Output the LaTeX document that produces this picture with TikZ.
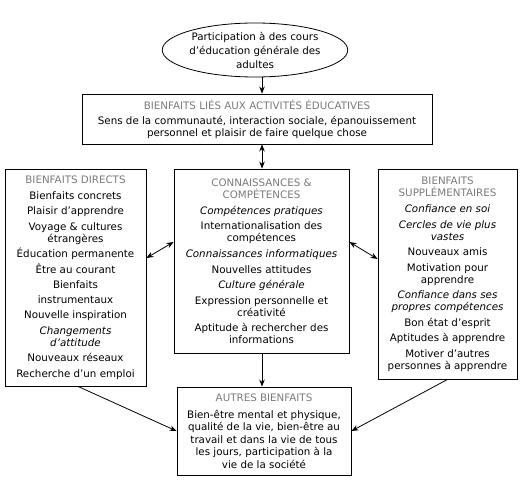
\documentclass[tikz,border=0pt]{standalone}
\usepackage{fontspec}
\setmainfont{DejaVu Sans}
\usetikzlibrary{shapes.geometric,arrows.meta,calc}
\definecolor{headgray}{HTML}{7A7A7A}
\newcommand{\hd}{\color{headgray}}
\newcommand{\itl}{\itshape}
\begin{document}
\begin{tikzpicture}[x=1bp,y=-1bp,
  every node/.style={font=\fontsize{10.3bp}{12bp}\selectfont, align=center, inner sep=0pt},
  box/.style={draw=black, line width=0.9bp, rectangle},
  arr/.style={line width=0.8bp, -{Stealth[length=7bp,width=5.5bp]}},
  darr/.style={line width=0.8bp, {Stealth[length=7bp,width=5.5bp]}-{Stealth[length=7bp,width=5.5bp]}}]
\useasboundingbox (0,0) rectangle (524,482);
\node[ellipse, draw=black, line width=0.8bp, minimum width=182bp, minimum height=54bp,
  font=\fontsize{10.3bp}{14bp}\selectfont] (E) at (255,50)
  {Participation à des cours\\d'éducation générale des\\adultes};
\node[box, minimum width=350bp, minimum height=50bp] (T) at (257,119)
  {\hd BIENFAITS LIÉS AUX ACTIVITÉS ÉDUCATIVES\\[3bp]
   Sens de la communauté, interaction sociale, épanouissement\\personnel et plaisir de faire quelque chose};
\node[box, minimum width=141bp, minimum height=217bp] (L) at (75.5,277.5)
  {\hd BIENFAITS DIRECTS\\[4bp]
   Bienfaits concrets\\[3.5bp]
   Plaisir d'apprendre\\[3.5bp]
   Voyage \& cultures\\étrangères\\[3.5bp]
   Éducation permanente\\[3.5bp]
   Être au courant\\[3.5bp]
   Bienfaits\\[2.5bp]instrumentaux\\[3.5bp]
   Nouvelle inspiration\\[3.5bp]
   \itl Changements\\\itl d'attitude\\[3.5bp]
   Nouveaux réseaux\\[3.5bp]
   Recherche d'un emploi};
\node[box, minimum width=175bp, minimum height=184bp] (M) at (261.5,261)
  {\hd CONNAISSANCES \&\\\hd COMPÉTENCES\\[4bp]
   \itl Compétences pratiques\\[3.5bp]
   Internationalisation des\\compétences\\[4bp]
   \itl Connaissances informatiques\\[3.5bp]
   Nouvelles attitudes\\[3.5bp]
   \itl Culture générale\\[3.5bp]
   Expression personnelle et\\créativité\\[3.5bp]
   Aptitude à rechercher des\\informations};
\node[box, minimum width=139bp, minimum height=210bp] (R) at (447.5,274)
  {\hd BIENFAITS\\\hd SUPPLÉMENTAIRES\\[4bp]
   \itl Confiance en soi\\[3.5bp]
   \itl Cercles de vie plus\\\itl vastes\\[3.5bp]
   Nouveaux amis\\[3.5bp]
   Motivation pour\\apprendre\\[3.5bp]
   \itl Confiance dans ses\\\itl propres compétences\\[3.5bp]
   Bon état d'esprit\\[3.5bp]
   Aptitudes à apprendre\\[3.5bp]
   Motiver d'autres\\personnes à apprendre};
\node[box, minimum width=174bp, minimum height=88bp, font=\fontsize{10.3bp}{12.5bp}\selectfont] (B) at (264,431)
  {\hd AUTRES BIENFAITS\\[4bp]
   Bien-être mental et physique,\\qualité de la vie, bien-être au\\travail et dans la vie de tous\\les jours, participation à la\\vie de la société};
\coordinate (ax) at (262,0);
\draw[arr] (E.south -| ax) -- (T.north -| ax);
\draw[darr] (T.south -| ax) -- (M.north -| ax);
\draw[arr] (M.south -| ax) -- (B.north -| ax);
\draw[darr] ([yshift=19.5bp]L.east) -- ([yshift=19bp]M.west);
\draw[darr] ([yshift=19bp]M.east) -- ([yshift=15bp]R.west);
\draw[arr] ([xshift=2.5bp]L.south) -- (B.west);
\draw[arr] (R.south) -- (B.east);
\end{tikzpicture}
\end{document}
